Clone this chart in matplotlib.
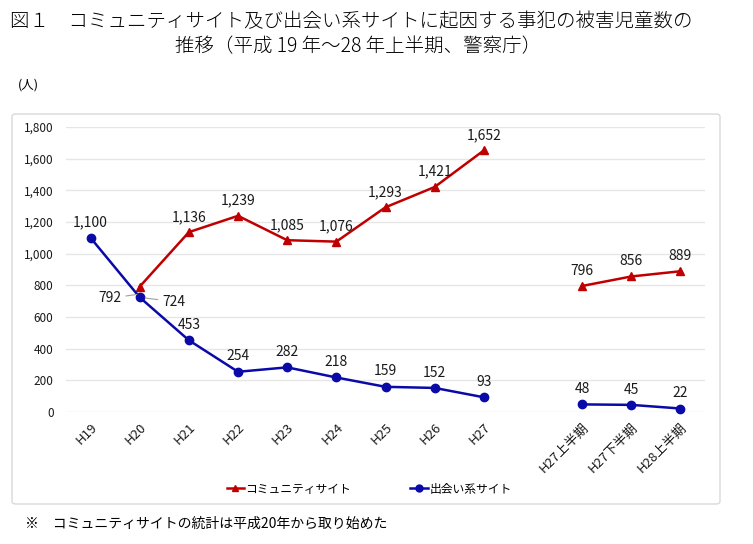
import numpy as np
import matplotlib.pyplot as plt
from matplotlib.patches import FancyBboxPatch
from matplotlib.lines import Line2D

plt.rcParams['font.family'] = ['Noto Sans CJK JP', 'DejaVu Sans']

# categories (blank slot separates yearly and half-year figures)
categories = ['H19', 'H20', 'H21', 'H22', 'H23', 'H24', 'H25', 'H26', 'H27',
              '', 'H27上半期', 'H27下半期', 'H28上半期']
community_year = [None, 792, 1136, 1239, 1085, 1076, 1293, 1421, 1652]
community_half = [796, 856, 889]
deai_year = [1100, 724, 453, 254, 282, 218, 159, 152, 93]
deai_half = [48, 45, 22]
yticks = [0, 200, 400, 600, 800, 1000, 1200, 1400, 1600, 1800]

RED = '#C00000'
BLUE = '#0A0AA8'
TXT = '#1A1A1A'

fig = plt.figure(figsize=(7.53, 5.44), dpi=100)
W, H = 753, 544

# title
fig.text(10 / W, 1 - 22 / H, '図１　コミュニティサイト及び出会い系サイトに起因する事犯の被害児童数の',
         fontsize=14, ha='left', va='center', fontweight='light')
fig.text(175 / W, 1 - 47 / H, '推移（平成 19 年～28 年上半期、警察庁）',
         fontsize=14, ha='left', va='center', fontweight='light')
fig.text(18 / W, 1 - 85 / H, '(人)', fontsize=9, ha='left', va='center')

# chart frame
frame = FancyBboxPatch((12 / W, 1 - 504 / H), 708 / W, 390 / H,
                       boxstyle='round,pad=0,rounding_size=0.005',
                       transform=fig.transFigure, fill=False,
                       edgecolor='#D9D9D9', linewidth=1.0)
fig.patches.append(frame)

ax = fig.add_axes([66 / W, (H - 412) / H, (705 - 66) / W, (412 - 127) / H])
ax.set_xlim(-0.5, len(categories) - 0.5)
ax.set_ylim(0, 1800)
for s in ax.spines.values():
    s.set_visible(False)
ax.set_yticks(yticks)
ax.set_yticklabels(['{:,}'.format(v) for v in yticks], fontsize=8.5, color=TXT)
ax.yaxis.grid(True, color='#E6E6E6', linewidth=1.0)
ax.set_axisbelow(True)
ax.tick_params(axis='both', length=0)
ax.tick_params(axis='y', pad=9)
ax.set_xticks(range(len(categories)))
ax.set_xticklabels(categories, fontsize=9.5, rotation=45, ha='right',
                   va='top', rotation_mode='anchor', color=TXT)
ax.tick_params(axis='x', pad=6)

x_year = np.arange(len(deai_year))
x_half = np.arange(10, 13)

# community site (starts H20)
cx = x_year[1:]
cy = community_year[1:]
ax.plot(cx, cy, color=RED, marker='^', markersize=6, linewidth=1.8, clip_on=False)
ax.plot(x_half, community_half, color=RED, marker='^', markersize=6, linewidth=1.8, clip_on=False)

# deai site
ax.plot(x_year, deai_year, color=BLUE, marker='o', markersize=6, linewidth=1.8, clip_on=False)
ax.plot(x_half, deai_half, color=BLUE, marker='o', markersize=6, linewidth=1.8, clip_on=False)

lab_kw = dict(fontsize=10, ha='center', va='bottom', color=TXT)
for xi, v in zip(cx, cy):
    if xi == 1:
        continue
    ax.annotate('{:,}'.format(v), (xi, v), xytext=(0, 6), textcoords='offset points', **lab_kw)
for xi, v in zip(x_half, community_half):
    ax.annotate('{:,}'.format(v), (xi, v), xytext=(0, 6), textcoords='offset points', **lab_kw)
for xi, v in zip(x_year, deai_year):
    if xi == 1:
        continue
    ax.annotate('{:,}'.format(v), (xi, v), xytext=(0, 6), textcoords='offset points', **lab_kw)
for xi, v in zip(x_half, deai_half):
    ax.annotate('{:,}'.format(v), (xi, v), xytext=(0, 6), textcoords='offset points', **lab_kw)

# H20 labels with leader lines
ax.annotate('{:,}'.format(community_year[1]), (1, 745), xytext=(-13, -3),
            textcoords='offset points', fontsize=10, ha='right', va='center',
            color=TXT,
            arrowprops=dict(arrowstyle='-', color='#A0A0A0', lw=0.8, shrinkA=1, shrinkB=2))
ax.annotate('{:,}'.format(deai_year[1]), (1, deai_year[1]), xytext=(16, -3),
            textcoords='offset points', fontsize=10, ha='left', va='center',
            color=TXT,
            arrowprops=dict(arrowstyle='-', color='#A0A0A0', lw=0.8, shrinkA=1, shrinkB=4))

# legend
handles = [Line2D([], [], color=RED, marker='^', markersize=5, linewidth=1.8),
           Line2D([], [], color=BLUE, marker='o', markersize=5, linewidth=1.8)]
fig.legend(handles, ['コミュニティサイト', '出会い系サイト'], loc='center',
           bbox_to_anchor=(369 / W, 1 - 489 / H), ncol=2, frameon=False,
           fontsize=8.5, handlelength=1.5, handletextpad=0.1, columnspacing=5)

fig.text(25 / W, 1 - 524 / H, '※　コミュニティサイトの統計は平成20年から取り始めた',
         fontsize=10, ha='left', va='center')

fig.savefig('out.png', dpi=100)
